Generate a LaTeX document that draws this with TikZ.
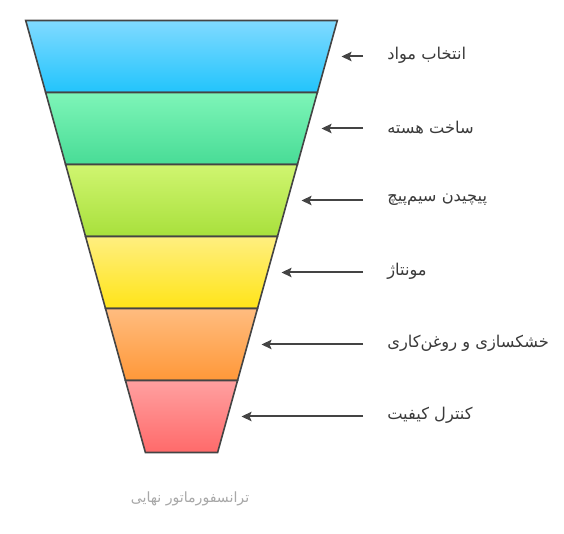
\documentclass[tikz,border=0pt]{standalone}
\usepackage{fontspec}
\usetikzlibrary{arrows.meta}
\TeXXeTstate=1
\newfontfamily\fafont[Script=Arabic]{DejaVu Sans}
\definecolor{edge}{HTML}{444444}
\definecolor{lbl}{HTML}{3A3A3A}
\definecolor{cap}{HTML}{A8A8A8}
\definecolor{aT}{HTML}{80DAFF}\definecolor{aB}{HTML}{22C4FC}
\definecolor{bT}{HTML}{7EF5B8}\definecolor{bB}{HTML}{48DC96}
\definecolor{cT}{HTML}{D0F570}\definecolor{cB}{HTML}{A8E03C}
\definecolor{dT}{HTML}{FFEF80}\definecolor{dB}{HTML}{FFE418}
\definecolor{eT}{HTML}{FFBC80}\definecolor{eB}{HTML}{FF9838}
\definecolor{fT}{HTML}{FFA0A0}\definecolor{fB}{HTML}{FF6A6A}
\tikzset{
  band/.style={draw=edge, line width=1.2pt, line join=miter},
  arr/.style={draw=edge, line width=1.5pt, -{Stealth[length=7.5pt,width=7pt,inset=1.5pt]}},
  lab/.style={anchor=west, inner xsep=18pt, inner ysep=0pt, text=lbl, font=\fafont\fontsize{12.2}{14}\selectfont},
  capt/.style={inner sep=0pt, text=cap, font=\fafont\fontsize{10.6}{12}\selectfont}
}
\begin{document}
\begin{tikzpicture}[x=0.75pt,y=-0.75pt]
\useasboundingbox[fill=white] (0,0) rectangle (564,534);
% funnel bands
\shade[band, top color=aT, bottom color=aB] (25.7,20.5) -- (337.3,20.5) -- (317.35,92.5) -- (45.65,92.5) -- cycle;
\shade[band, top color=bT, bottom color=bB] (45.65,92.5) -- (317.35,92.5) -- (297.4,164.5) -- (65.6,164.5) -- cycle;
\shade[band, top color=cT, bottom color=cB] (65.6,164.5) -- (297.4,164.5) -- (277.45,236.5) -- (85.55,236.5) -- cycle;
\shade[band, top color=dT, bottom color=dB] (85.55,236.5) -- (277.45,236.5) -- (257.5,308.5) -- (105.5,308.5) -- cycle;
\shade[band, top color=eT, bottom color=eB] (105.5,308.5) -- (257.5,308.5) -- (237.55,380.5) -- (125.45,380.5) -- cycle;
\shade[band, top color=fT, bottom color=fB] (125.45,380.5) -- (237.55,380.5) -- (217.6,452.5) -- (145.4,452.5) -- cycle;
% arrow targets
\coordinate (t1) at (341.5,56.5);
\coordinate (t2) at (321.5,128.5);
\coordinate (t3) at (301.5,200.5);
\coordinate (t4) at (281.5,272.5);
\coordinate (t5) at (261.5,344.5);
\coordinate (t6) at (241.5,416.5);
% labels
\node[lab] (l1) at (363,55.5) {\beginR انتخاب مواد\endR};
\node[lab] (l2) at (363,127.5) {\beginR ساخت هسته\endR};
\node[lab] (l3) at (363,199.5) {\beginR پیچیدن سیم‌پیچ\endR};
\node[lab] (l4) at (363,271.5) {\beginR مونتاژ\endR};
\node[lab] (l5) at (363,343.5) {\beginR خشکسازی و روغن‌کاری\endR};
\node[lab] (l6) at (363,415.5) {\beginR کنترل کیفیت\endR};
\foreach \i in {1,...,6} \draw[arr] (t\i -| l\i.west) -- (t\i);
\node[capt] (cap) at (190,499) {\beginR ترانسفورماتور نهایی\endR};
\end{tikzpicture}
\end{document}
